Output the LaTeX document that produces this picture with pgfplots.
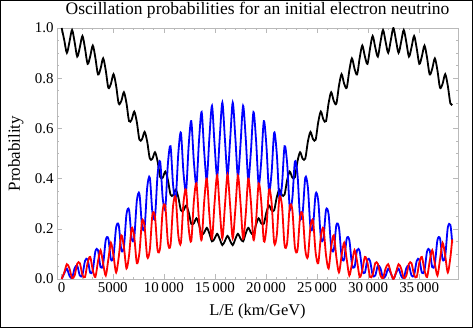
\documentclass[border=0pt]{standalone}
\usepackage{fontspec}
\setmainfont{Liberation Serif}
\usepackage{pgfplots}
\pgfplotsset{compat=1.18}
\usepackage{pgfplotstable}
\pgfplotstableread{
L e m t
0 1.000 0.000 0.000
254 0.951 0.023 0.026
507 0.901 0.041 0.059
761 0.945 0.013 0.042
1015 0.992 0.004 0.004
1269 0.943 0.043 0.014
1522 0.886 0.053 0.061
1776 0.923 0.014 0.063
2030 0.968 0.016 0.016
2283 0.919 0.072 0.008
2537 0.857 0.078 0.065
2791 0.887 0.025 0.088
3044 0.930 0.035 0.035
3298 0.881 0.110 0.008
3552 0.815 0.115 0.070
3806 0.838 0.047 0.115
4059 0.879 0.060 0.061
4313 0.831 0.155 0.014
4567 0.762 0.161 0.078
4820 0.778 0.078 0.144
5074 0.816 0.092 0.092
5328 0.770 0.205 0.026
5581 0.699 0.215 0.086
5835 0.709 0.116 0.174
6089 0.744 0.127 0.128
6343 0.700 0.258 0.042
6596 0.629 0.275 0.095
6850 0.635 0.162 0.203
7104 0.667 0.166 0.167
7357 0.625 0.312 0.063
7611 0.555 0.339 0.105
7865 0.557 0.212 0.231
8118 0.586 0.206 0.208
8372 0.547 0.365 0.088
8626 0.480 0.404 0.116
8880 0.479 0.266 0.255
9133 0.505 0.246 0.249
9387 0.469 0.416 0.115
9641 0.406 0.468 0.126
9894 0.404 0.320 0.276
10148 0.428 0.285 0.288
10402 0.394 0.461 0.144
10655 0.336 0.529 0.135
10909 0.334 0.373 0.293
11163 0.356 0.321 0.323
11417 0.326 0.500 0.174
11670 0.274 0.583 0.144
11924 0.273 0.423 0.304
12178 0.293 0.352 0.355
12431 0.266 0.531 0.203
12685 0.220 0.629 0.151
12939 0.222 0.468 0.310
13192 0.242 0.377 0.381
13446 0.217 0.553 0.231
13700 0.178 0.665 0.156
13954 0.185 0.505 0.310
14207 0.204 0.396 0.400
14461 0.181 0.564 0.255
14715 0.150 0.690 0.160
14968 0.161 0.535 0.304
15222 0.180 0.408 0.412
15476 0.159 0.565 0.276
15729 0.135 0.703 0.162
15983 0.152 0.555 0.293
16237 0.172 0.412 0.416
16491 0.152 0.555 0.293
16744 0.135 0.703 0.162
16998 0.159 0.565 0.276
17252 0.180 0.408 0.412
17505 0.161 0.535 0.304
17759 0.150 0.690 0.160
18013 0.181 0.564 0.255
18266 0.204 0.396 0.400
18520 0.185 0.505 0.310
18774 0.178 0.665 0.156
19028 0.217 0.553 0.231
19281 0.242 0.377 0.381
19535 0.222 0.468 0.310
19789 0.220 0.629 0.151
20042 0.266 0.531 0.203
20296 0.293 0.352 0.355
20550 0.273 0.423 0.304
20803 0.274 0.583 0.144
21057 0.326 0.500 0.174
21311 0.356 0.321 0.323
21565 0.334 0.373 0.293
21818 0.336 0.529 0.135
22072 0.394 0.461 0.144
22326 0.428 0.285 0.288
22579 0.404 0.320 0.276
22833 0.406 0.468 0.126
23087 0.469 0.416 0.115
23340 0.505 0.246 0.249
23594 0.479 0.266 0.255
23848 0.480 0.404 0.116
24102 0.547 0.365 0.088
24355 0.586 0.206 0.208
24609 0.557 0.212 0.231
24863 0.555 0.339 0.105
25116 0.625 0.312 0.063
25370 0.667 0.166 0.167
25624 0.635 0.162 0.203
25877 0.629 0.275 0.095
26131 0.700 0.258 0.042
26385 0.744 0.127 0.128
26639 0.709 0.116 0.174
26892 0.699 0.215 0.086
27146 0.770 0.205 0.026
27400 0.816 0.092 0.092
27653 0.778 0.078 0.144
27907 0.762 0.161 0.078
28161 0.831 0.155 0.014
28414 0.879 0.060 0.061
28668 0.838 0.047 0.115
28922 0.815 0.115 0.070
29176 0.881 0.110 0.008
29429 0.930 0.035 0.035
29683 0.887 0.025 0.088
29937 0.857 0.078 0.065
30190 0.919 0.072 0.008
30444 0.968 0.016 0.016
30698 0.923 0.014 0.063
30951 0.886 0.053 0.061
31205 0.943 0.043 0.014
31459 0.992 0.004 0.004
31713 0.945 0.013 0.042
31966 0.901 0.041 0.059
32220 0.951 0.023 0.026
32474 1.000 0.000 0.000
32727 0.951 0.023 0.026
32981 0.901 0.041 0.059
33235 0.945 0.013 0.042
33488 0.992 0.004 0.004
33742 0.943 0.043 0.014
33996 0.886 0.053 0.061
34250 0.923 0.014 0.063
34503 0.968 0.016 0.016
34757 0.919 0.072 0.008
35011 0.857 0.078 0.065
35264 0.887 0.025 0.088
35518 0.930 0.035 0.035
35772 0.881 0.110 0.008
36025 0.815 0.115 0.070
36279 0.838 0.047 0.115
36533 0.879 0.060 0.061
36787 0.831 0.155 0.014
37040 0.762 0.161 0.078
37294 0.778 0.078 0.144
37548 0.816 0.092 0.092
37801 0.770 0.205 0.026
38055 0.699 0.215 0.086
38233 0.698 0.144 0.158
}\data
\begin{document}
\begin{tikzpicture}
\useasboundingbox (-57bp,-49bp) rectangle (416bp,279bp);
\begin{axis}[
  scale only axis, width=401bp, height=251bp,
  xmin=-460, xmax=38800, ymin=0, ymax=1,
  scaled x ticks=false, scaled y ticks=false,
  xtick={0,5000,10000,15000,20000,25000,30000,35000},
  xticklabels={0,5000,10\,000,15\,000,20\,000,25\,000,30\,000,35\,000},
  ytick={0,0.2,0.4,0.6,0.8,1},
  yticklabels={0.0,0.2,0.4,0.6,0.8,1.0},
  minor x tick num=4, minor y tick num=3,
  tick align=inside,
  xtick pos=both, ytick pos=both,
  xticklabel pos=lower, yticklabel pos=left,
  major tick length=5bp, minor tick length=2.5bp,
  axis line style={gray!55, line width=0.6bp},
  every tick/.style={gray!55, line width=0.5bp},
  tick label style={font=\fontsize{15}{18}\selectfont, black},
  title={Oscillation probabilities for an initial electron neutrino},
  title style={font=\fontsize{17.6}{21}\selectfont, at={(0.5,1.0299)}, anchor=base},
  xlabel={L/E (km/GeV)},
  xlabel style={font=\fontsize{16.5}{19}\selectfont, at={(0.5,-0.1474)}, anchor=base},
  ylabel={Probability},
  ylabel style={font=\fontsize{17}{20}\selectfont, at={(-0.0923,0.5)}, anchor=base},
  clip=true,
]
\addplot[black, line width=1.8bp, smooth] table[x=L, y=e] {\data};
\addplot[blue, line width=1.8bp, smooth] table[x=L, y=m] {\data};
\addplot[red, line width=1.8bp, smooth] table[x=L, y=t] {\data};
\end{axis}
\draw[black, line width=1bp] (-56.5bp,-48.5bp) rectangle (415.5bp,278.5bp);
\end{tikzpicture}
\end{document}
